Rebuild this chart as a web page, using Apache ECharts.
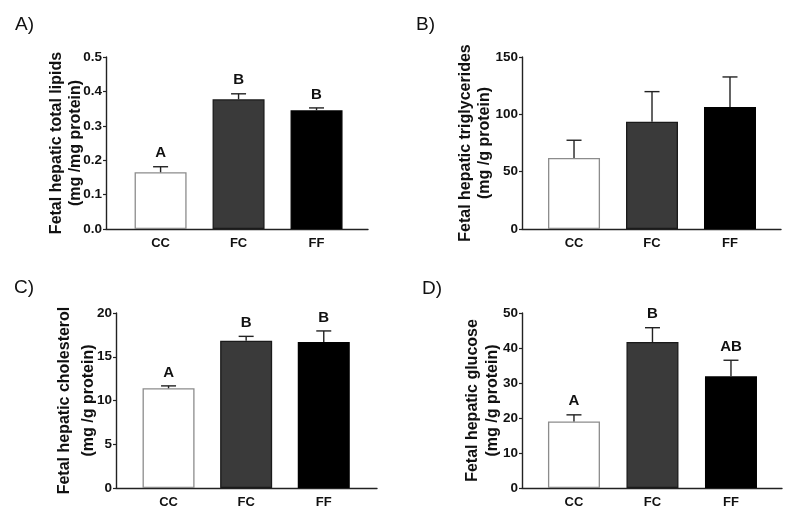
<!DOCTYPE html>
<html>
<head>
<meta charset="utf-8">
<script src="https://cdn.jsdelivr.net/npm/echarts@6/dist/echarts.min.js"></script>
<style>
html,body{margin:0;padding:0;background:#fff;}
#chart{width:793px;height:515px;}
</style>
</head>
<body>
<div id="chart"></div>
<script>
// ---- data ----
const categories = ['CC', 'FC', 'FF'];

const lipidsMean = [0.165, 0.377, 0.345];
const lipidsErr = [0.016, 0.016, 0.007];
const lipidsLetters = ['A', 'B', 'B'];
const lipidsTicks = [0, 0.1, 0.2, 0.3, 0.4, 0.5];

const trigMean = [62, 93.6, 106.4];
const trigErr = [15.4, 26.2, 26.2];
const trigLetters = ['', '', ''];
const trigTicks = [0, 50, 100, 150];

const cholMean = [11.4, 16.83, 16.7];
const cholErr = [0.27, 0.5, 1.25];
const cholLetters = ['A', 'B', 'B'];
const cholTicks = [0, 5, 10, 15, 20];

const glucMean = [19, 41.7, 31.9];
const glucErr = [1.9, 4.1, 4.6];
const glucLetters = ['A', 'B', 'AB'];
const glucTicks = [0, 10, 20, 30, 40, 50];

const panelLabels = ['A)', 'B)', 'C)', 'D)'];
const yTitles = [
  'Fetal hepatic total lipids\n(mg /mg protein)',
  'Fetal hepatic triglycerides\n(mg /g protein)',
  'Fetal hepatic cholesterol\n(mg /g protein)',
  'Fetal hepatic glucose\n(mg /g protein)'
];

// ---- layout / style ----
const FONT = '"Liberation Sans", Arial, sans-serif';
const barFill = ['#ffffff', '#3a3a3a', '#000000'];
const barBorder = ['#8c8c8c', '#1a1a1a', '#000000'];

const panels = [
  { mean: lipidsMean, err: lipidsErr, letters: lipidsLetters, ticks: lipidsTicks, dec: 1,
    grid: { left: 106, top: 57, width: 262, height: 172 }, xmin: -0.7, xmax: 2.66, nameGap: 21, lh: 19,
    label: { left: 10, top: 10 } },
  { mean: trigMean, err: trigErr, letters: trigLetters, ticks: trigTicks, dec: 0,
    grid: { left: 522, top: 57, width: 259, height: 172 }, xmin: -0.667, xmax: 2.654, nameGap: 28, lh: 19,
    label: { left: 411, top: 10 } },
  { mean: cholMean, err: cholErr, letters: cholLetters, ticks: cholTicks, dec: 0,
    grid: { left: 116, top: 313, width: 261, height: 175 }, xmin: -0.677, xmax: 2.686, nameGap: 15, lh: 24,
    label: { left: 9, top: 273 } },
  { mean: glucMean, err: glucErr, letters: glucLetters, ticks: glucTicks, dec: 0,
    grid: { left: 522, top: 313, width: 260, height: 175 }, xmin: -0.662, xmax: 2.65, nameGap: 19, lh: 20,
    label: { left: 417, top: 274 } }
];

const chart = echarts.init(document.getElementById('chart'), null, { renderer: 'canvas' });

const option = {
  backgroundColor: '#fff',
  animation: false,
  textStyle: { fontFamily: FONT },
  title: panels.map((p, k) => ({
    text: panelLabels[k], left: p.label.left, top: p.label.top,
    textStyle: { fontFamily: FONT, fontSize: 19, fontWeight: 'normal', color: '#111' }
  })),
  grid: panels.map(p => Object.assign({ containLabel: false }, p.grid)),
  xAxis: panels.map((p, k) => ({
    type: 'value', gridIndex: k, min: p.xmin, max: p.xmax,
    axisLine: { show: true, onZero: false, lineStyle: { color: '#222', width: 1.4 } },
    axisTick: { show: false },
    splitLine: { show: false },
    axisLabel: {
      customValues: [0, 1, 2],
      formatter: v => categories[Math.round(v)] || '',
      fontFamily: FONT, fontSize: 13, fontWeight: 'bold', color: '#111', margin: 8
    }
  })),
  yAxis: panels.map((p, k) => ({
    type: 'value', gridIndex: k,
    min: p.ticks[0], max: p.ticks[p.ticks.length - 1], interval: p.ticks[1] - p.ticks[0],
    axisLine: { show: true, onZero: false, lineStyle: { color: '#222', width: 1.4 } },
    axisTick: { show: true, inside: false, length: 3, lineStyle: { color: '#222', width: 1.2 } },
    splitLine: { show: false },
    axisLabel: {
      formatter: v => v.toFixed(p.dec),
      fontFamily: FONT, fontSize: 13.5, fontWeight: 'bold', color: '#111', margin: 4
    },
    name: yTitles[k], nameLocation: 'middle', nameRotate: 90, nameGap: p.nameGap,
    nameMoveOverlap: false,
    nameTextStyle: { fontFamily: FONT, fontSize: 16, fontWeight: 'bold', color: '#111', lineHeight: p.lh }
  })),
  series: []
};

panels.forEach((p, k) => {
  option.series.push({
    type: 'bar', xAxisIndex: k, yAxisIndex: k, barWidth: 52, z: 2,
    data: p.mean.map((v, i) => ({
      value: [i, v],
      itemStyle: { color: barFill[i], borderColor: barBorder[i], borderWidth: 1.3 }
    }))
  });
  option.series.push({
    type: 'custom', xAxisIndex: k, yAxisIndex: k, z: 3, clip: false,
    data: p.mean.map((v, i) => [i, v, p.err[i]]),
    renderItem: function (params, api) {
      const x = api.value(0), m = api.value(1), e = api.value(2);
      const p0 = api.coord([x, m]);
      const p1 = api.coord([x, m + e]);
      const col = '#222';
      const children = [
        { type: 'line', shape: { x1: p0[0], y1: p0[1], x2: p1[0], y2: p1[1] }, style: { stroke: col, lineWidth: 1.4 } },
        { type: 'line', shape: { x1: p1[0] - 7.5, y1: p1[1], x2: p1[0] + 7.5, y2: p1[1] }, style: { stroke: col, lineWidth: 1.4 } }
      ];
      const letter = p.letters[params.dataIndex];
      if (letter) {
        children.push({
          type: 'text',
          style: { text: letter, x: p1[0], y: p1[1] - 6, align: 'center', verticalAlign: 'bottom',
            font: 'bold 15px ' + FONT, fill: '#111' }
        });
      }
      return { type: 'group', children: children };
    }
  });
});

chart.setOption(option);
</script>
</body>
</html>
